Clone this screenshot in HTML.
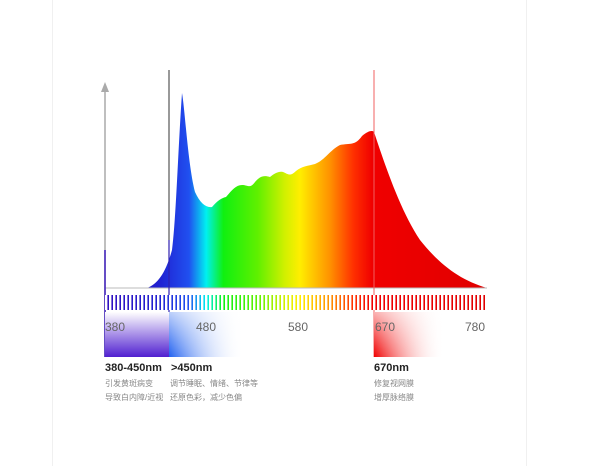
<!DOCTYPE html>
<html><head><meta charset="utf-8"><style>
body{margin:0;background:#fff;width:615px;height:466px;overflow:hidden;position:relative;font-family:"Liberation Sans","Noto Sans CJK SC",sans-serif}
.t{position:absolute;white-space:nowrap}
.h{font-weight:bold;font-size:11px;color:#222}
.s{font-size:8px;color:#888}
.n{font-size:12px;color:#666}
</style></head><body>
<div style="position:absolute;left:52px;top:0;width:1px;height:466px;background:#f0f0f0"></div>
<div style="position:absolute;left:526px;top:0;width:1px;height:466px;background:#f0f0f0"></div>
<svg width="615" height="466" style="position:absolute;left:0;top:0">
<defs>
<linearGradient id="sp" x1="105" x2="487" gradientUnits="userSpaceOnUse">
<stop offset="0" stop-color="#3010c0"/>
<stop offset="0.14" stop-color="#2020d0"/>
<stop offset="0.22" stop-color="#2050f0"/>
<stop offset="0.265" stop-color="#00f0f0"/>
<stop offset="0.31" stop-color="#10f010"/>
<stop offset="0.40" stop-color="#60f000"/>
<stop offset="0.47" stop-color="#d0f000"/>
<stop offset="0.51" stop-color="#ffee00"/>
<stop offset="0.59" stop-color="#ff9000"/>
<stop offset="0.65" stop-color="#ff3000"/>
<stop offset="0.70" stop-color="#f00000"/>
<stop offset="1" stop-color="#e00000"/>
</linearGradient>
<pattern id="st" x="105" y="0" width="4" height="20" patternUnits="userSpaceOnUse"><rect x="0" y="0" width="2.4" height="20" fill="#fff"/></pattern>
<linearGradient id="pu" x1="0" y1="0" x2="0" y2="1"><stop offset="0" stop-color="#fff"/><stop offset="1" stop-color="#5020d0"/></linearGradient>
<linearGradient id="bl" x1="0" x2="1"><stop offset="0" stop-color="#2060f0"/><stop offset="1" stop-color="#fff" stop-opacity="0"/></linearGradient>
<linearGradient id="bv" x1="0" y1="0" x2="0" y2="1"><stop offset="0" stop-color="#fff" stop-opacity=".7"/><stop offset="1" stop-color="#fff" stop-opacity="0"/></linearGradient>
<linearGradient id="rd" x1="0" x2="1"><stop offset="0" stop-color="#f00000"/><stop offset="1" stop-color="#fff" stop-opacity="0"/></linearGradient>
</defs>
<path fill="url(#sp)" d="M147,288 C158,284 166,272 172,250 C176,220 178,150 182,93 C185,110 188,165 195,192 C200,203 206,208 212,207 C218,200 222,198 226,197 C232,190 236,185 242,185 C248,185 250,189 255,182 C260,176 264,175 270,177 C274,174 278,171 283,172 C288,174 290,177 296,171 C302,166 308,166 315,164 C325,160 330,150 340,145 C350,143 355,146 362,136 C368,131 372,130 374,132 C385,165 400,210 420,240 C440,265 460,280 487,288 Z"/>
<line x1="105" y1="288" x2="487" y2="288" stroke="#bbb" stroke-width="1"/>
<line x1="105" y1="90" x2="105" y2="357" stroke="#aaa" stroke-width="1.5"/>
<line x1="105" y1="250" x2="105" y2="357" stroke="#4020c0" stroke-width="1.5"/>
<polygon points="105,82 101,92 109,92" fill="#aaa"/>
<line x1="169" y1="70" x2="169" y2="357" stroke="#333" stroke-width="1"/>
<line x1="169" y1="240" x2="169" y2="357" stroke="#3020b0" stroke-width="1.2"/>
<line x1="374" y1="70" x2="374" y2="357" stroke="#f06060" stroke-width="1"/>
<rect x="105" y="295" width="382" height="15" fill="url(#sp)"/>
<rect x="105" y="295" width="382" height="15" fill="url(#st)"/>
<rect x="105" y="312" width="64" height="45" fill="url(#pu)"/>
<rect x="169" y="312" width="75" height="45" fill="url(#bl)"/>
<rect x="169" y="312" width="75" height="45" fill="url(#bv)"/>
<rect x="374" y="312" width="70" height="45" fill="url(#rd)"/>
<rect x="374" y="312" width="70" height="45" fill="url(#bv)"/>
</svg>
<div class="t n" style="left:105px;top:320px">380</div>
<div class="t n" style="left:196px;top:320px">480</div>
<div class="t n" style="left:288px;top:320px">580</div>
<div class="t n" style="left:375px;top:320px">670</div>
<div class="t n" style="left:465px;top:320px">780</div>
<div class="t h" style="left:105px;top:362px">380-450nm</div>
<div class="t h" style="left:171px;top:362px">&gt;450nm</div>
<div class="t h" style="left:374px;top:362px">670nm</div>
<div class="t s" style="left:105px;top:378px">引发黄斑病变</div>
<div class="t s" style="left:105px;top:392px">导致白内障/近视</div>
<div class="t s" style="left:170px;top:378px">调节睡眠、情绪、节律等</div>
<div class="t s" style="left:170px;top:392px">还原色彩，减少色偏</div>
<div class="t s" style="left:374px;top:378px">修复视网膜</div>
<div class="t s" style="left:374px;top:392px">增厚脉络膜</div>
</body></html>
